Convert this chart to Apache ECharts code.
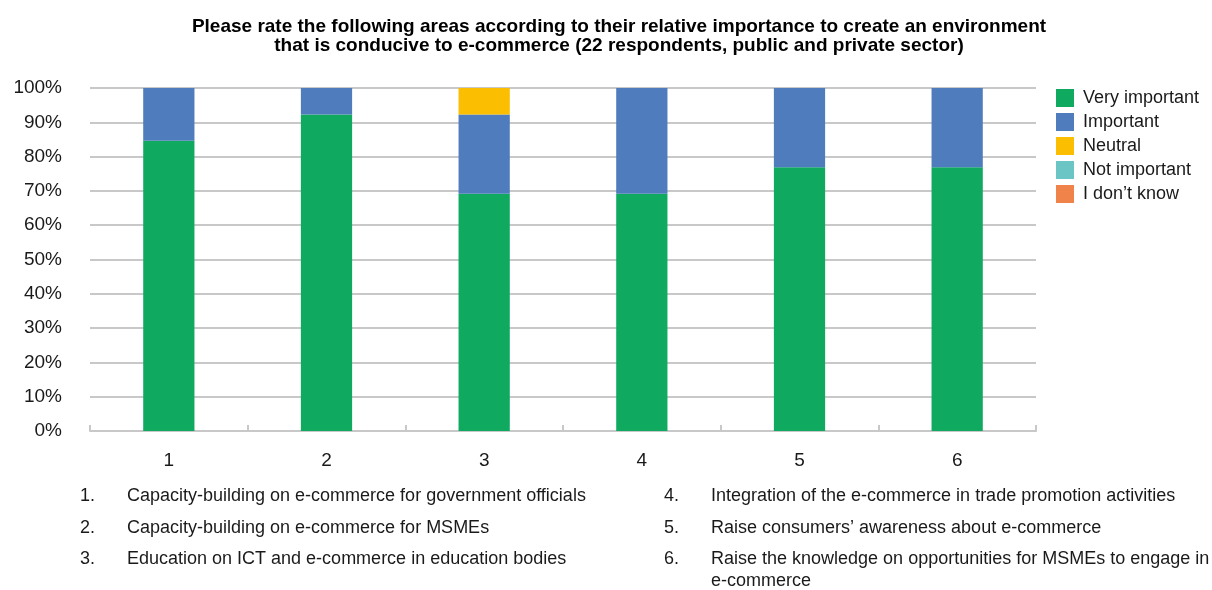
<!DOCTYPE html>
<html>
<head>
<meta charset="utf-8">
<script src="https://cdn.jsdelivr.net/npm/echarts@6/dist/echarts.min.js"></script>
<style>
html,body{margin:0;padding:0;background:#fff;}
#chart{width:1212px;height:590px;}
</style>
</head>
<body>
<div id="chart"></div>
<script>
// Survey areas (x axis) and share of answers per rating, in percent
const categories = ['1', '2', '3', '4', '5', '6'];
const veryImportant = [84.6, 92.3, 69.2, 69.2, 76.9, 76.9];
const important = [15.4, 7.7, 23.1, 30.8, 23.1, 23.1];
const neutral = [0, 0, 7.7, 0, 0, 0];
const notImportant = [0, 0, 0, 0, 0, 0];
const dontKnow = [0, 0, 0, 0, 0, 0];
const yTicks = [0, 10, 20, 30, 40, 50, 60, 70, 80, 90, 100];

const areaNames = [
  'Capacity-building on e-commerce for government officials',
  'Capacity-building on e-commerce for MSMEs',
  'Education on ICT and e-commerce in education bodies',
  'Integration of the e-commerce in trade promotion activities',
  'Raise consumers\u2019 awareness about e-commerce',
  'Raise the knowledge on opportunities for MSMEs to engage in\ne-commerce'
];

const FONT = '"Liberation Sans", Arial, sans-serif';
const TEXT = '#1a1a1a';

const seriesDefs = [
  { name: 'Very important', data: veryImportant, color: '#0fa960' },
  { name: 'Important', data: important, color: '#4e7cbd' },
  { name: 'Neutral', data: neutral, color: '#fbbe00' },
  { name: 'Not important', data: notImportant, color: '#6ac5c4' },
  { name: 'I don\u2019t know', data: dontKnow, color: '#f0834a' }
];

// Numbered list of areas under the chart, two columns
const listGraphics = [];
const rowY = [496, 528, 559];
areaNames.forEach((name, i) => {
  const col = i < 3 ? 0 : 1;
  const row = i % 3;
  const nx = col === 0 ? 80 : 664;
  const tx = col === 0 ? 127 : 711;
  listGraphics.push({
    type: 'text', x: nx, y: rowY[row],
    style: { text: (i + 1) + '.', font: '18px ' + FONT, fill: TEXT, verticalAlign: 'middle' }
  });
  listGraphics.push({
    type: 'text', x: tx, y: rowY[row] - 11,
    style: { text: name, font: '18px ' + FONT, fill: TEXT, lineHeight: 22, verticalAlign: 'top' }
  });
});

const chart = echarts.init(document.getElementById('chart'), null, { renderer: 'canvas' });
chart.setOption({
  animation: false,
  backgroundColor: '#fff',
  title: {
    text: 'Please rate the following areas according to their relative importance to create an environment\nthat is conducive to e-commerce (22 respondents, public and private sector)',
    left: 614, top: 12, textAlign: 'center',
    textStyle: { fontFamily: FONT, fontWeight: 'bold', fontSize: 19, lineHeight: 19, color: '#000' }
  },
  legend: {
    orient: 'vertical', left: 1056, top: 89, padding: 0,
    itemWidth: 18, itemHeight: 18, itemGap: 6,
    icon: 'rect',
    textStyle: { fontFamily: FONT, fontSize: 18, color: TEXT, padding: [0, 0, 0, 4] },
    data: seriesDefs.map(s => s.name)
  },
  grid: { left: 90, right: 176, top: 88, bottom: 159, containLabel: false },
  xAxis: {
    type: 'category', data: categories, boundaryGap: true,
    axisLine: { lineStyle: { color: '#c8c8c8', width: 2 } },
    axisTick: { show: true, inside: true, length: 6, lineStyle: { color: '#c8c8c8', width: 2 } },
    axisLabel: { fontFamily: FONT, fontSize: 19, color: TEXT, margin: 20 }
  },
  yAxis: {
    type: 'value', min: 0, max: 100, interval: 10,
    axisLine: { show: false }, axisTick: { show: false },
    splitLine: { lineStyle: { color: '#c8c8c8', width: 2 } },
    axisLabel: {
      fontFamily: FONT, fontSize: 19, color: TEXT, margin: 28,
      formatter: v => (yTicks.indexOf(v) >= 0 ? v + '%' : '')
    }
  },
  series: seriesDefs.map(s => ({
    name: s.name, type: 'bar', stack: 'total', data: s.data,
    barWidth: '32.5%', itemStyle: { color: s.color }
  })),
  graphic: listGraphics
});
</script>
</body>
</html>
